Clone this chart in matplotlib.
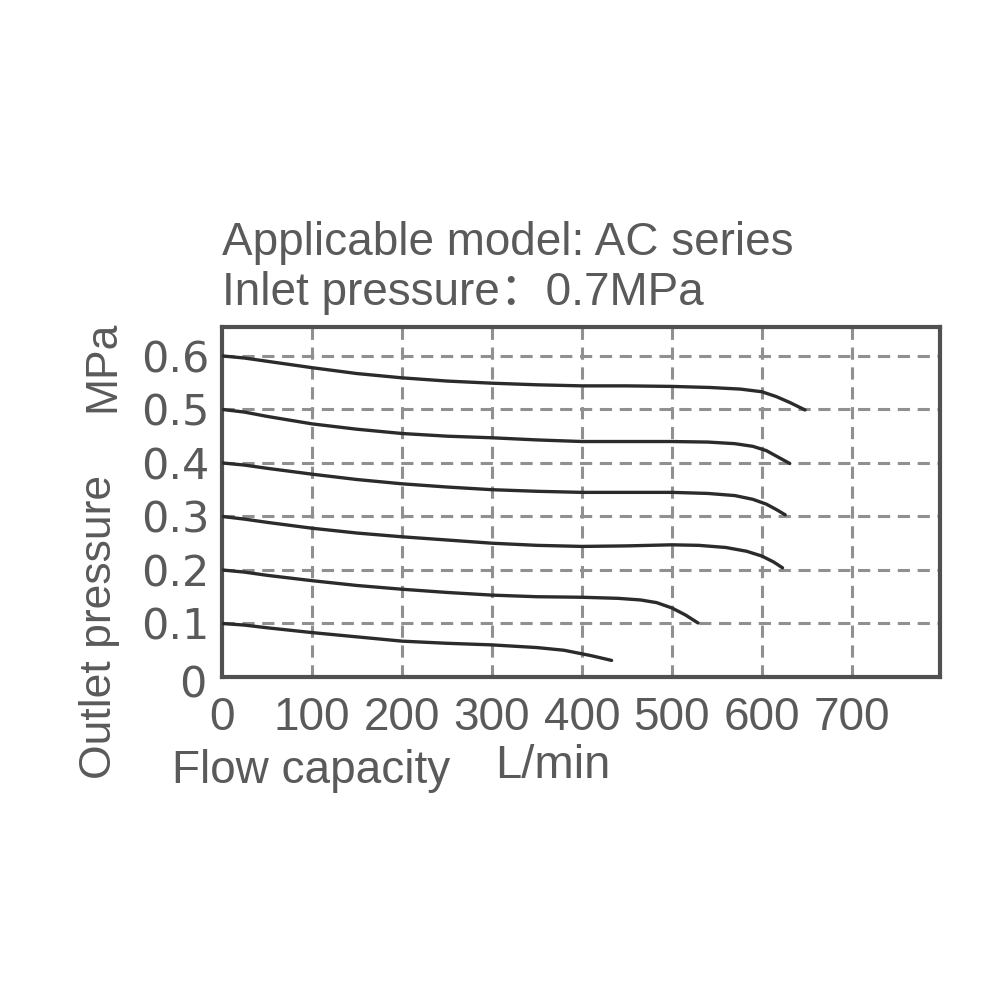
import matplotlib
matplotlib.use('Agg')
from matplotlib import pyplot

pyplot.rcParams['font.family'] = ['Liberation Sans', 'Noto Sans CJK SC', 'DejaVu Sans']

#(0) Data: flow (L/min) vs outlet pressure (MPa)
flow_06 = [0, 25, 50, 100, 150, 200, 250, 300, 350, 400, 450, 500, 542, 576, 600, 616, 631, 648]
pres_06 = [0.600, 0.596, 0.590, 0.578, 0.567, 0.559, 0.553, 0.549, 0.546, 0.544, 0.544, 0.543, 0.541, 0.538, 0.533, 0.524, 0.513, 0.499]

flow_05 = [0, 25, 50, 100, 150, 200, 250, 300, 350, 400, 450, 500, 540, 570, 590, 605, 618, 631]
pres_05 = [0.500, 0.495, 0.487, 0.473, 0.463, 0.455, 0.450, 0.447, 0.443, 0.440, 0.440, 0.440, 0.439, 0.436, 0.431, 0.423, 0.411, 0.399]

flow_04 = [0, 25, 50, 100, 150, 200, 250, 300, 350, 400, 450, 500, 540, 570, 590, 605, 616, 626]
pres_04 = [0.400, 0.396, 0.390, 0.379, 0.369, 0.361, 0.355, 0.350, 0.347, 0.345, 0.345, 0.345, 0.343, 0.339, 0.332, 0.323, 0.313, 0.303]

flow_03 = [0, 25, 50, 100, 150, 200, 250, 300, 350, 400, 450, 500, 530, 560, 583, 600, 613, 623]
pres_03 = [0.300, 0.295, 0.289, 0.278, 0.269, 0.262, 0.256, 0.250, 0.246, 0.244, 0.245, 0.247, 0.246, 0.242, 0.235, 0.226, 0.215, 0.204]

flow_02 = [0, 25, 50, 100, 150, 200, 250, 300, 350, 400, 440, 465, 483, 500, 515, 529]
pres_02 = [0.200, 0.196, 0.190, 0.180, 0.171, 0.164, 0.158, 0.153, 0.150, 0.149, 0.147, 0.144, 0.139, 0.129, 0.116, 0.101]

flow_01 = [0, 25, 50, 100, 150, 200, 250, 300, 350, 380, 410, 433]
pres_01 = [0.100, 0.097, 0.092, 0.083, 0.075, 0.067, 0.063, 0.060, 0.055, 0.050, 0.040, 0.031]

xticks = [0, 100, 200, 300, 400, 500, 600, 700]
yticks = [0.1, 0.2, 0.3, 0.4, 0.5, 0.6]

title1 = 'Applicable model: AC series'
title2 = 'Inlet pressure\uff1a0.7MPa'

grey = '#5a5a5a'

#(1) Plot:
fig = pyplot.figure(figsize=(10, 10), dpi=100)
ax = fig.add_axes([0.222, 0.323, 0.718, 0.350])

for x, y in zip((flow_06, flow_05, flow_04, flow_03, flow_02, flow_01),
                (pres_06, pres_05, pres_04, pres_03, pres_02, pres_01)):
    ax.plot(x, y, color='#2b2b2b', lw=2.4, solid_capstyle='round',
            solid_joinstyle='round', zorder=3)

ax.set_xlim(0, 798)
ax.set_ylim(0, 0.654)
ax.set_xticks(xticks)
ax.set_yticks(yticks)
ax.set_xticklabels([str(v) for v in xticks], size=33, color=grey)
ax.set_yticklabels(['%.1f' % v for v in yticks], family='DejaVu Sans', size=31, color=grey)
ax.tick_params(length=0)
ax.tick_params(axis='x', pad=14)
ax.tick_params(axis='y', pad=9)

# dashed grid (skip 0 which lies on the frame)
for v in xticks[1:]:
    ax.axvline(v, color='#909090', lw=2.2, ls=(0, (4, 2.5)), zorder=1)
for v in yticks:
    ax.axhline(v, color='#909090', lw=2.2, ls=(0, (4, 2.5)), zorder=1)

for s in ax.spines.values():
    s.set_linewidth(3)
    s.set_color('#505050')

ax.text(-0.040, -0.025, '0', transform=ax.transAxes, family='DejaVu Sans',
        size=31, color=grey, ha='center', va='center')

fig.text(0.222, 0.757, title1, size=33, color=grey, va='center')
fig.text(0.222, 0.707, title2, size=33, color=grey, va='center')

fig.text(0.100, 0.373, 'Outlet pressure', size=32, color=grey, rotation=90,
         ha='center', va='center')
fig.text(0.103, 0.634, 'MPa', size=32, color=grey, rotation=90,
         ha='center', va='center')

fig.text(0.172, 0.229, 'Flow capacity', size=33, color=grey, va='center')
fig.text(0.495, 0.234, 'L/min', size=34, color=grey, va='center')

fig.savefig('out.png', dpi=100, facecolor='white')
